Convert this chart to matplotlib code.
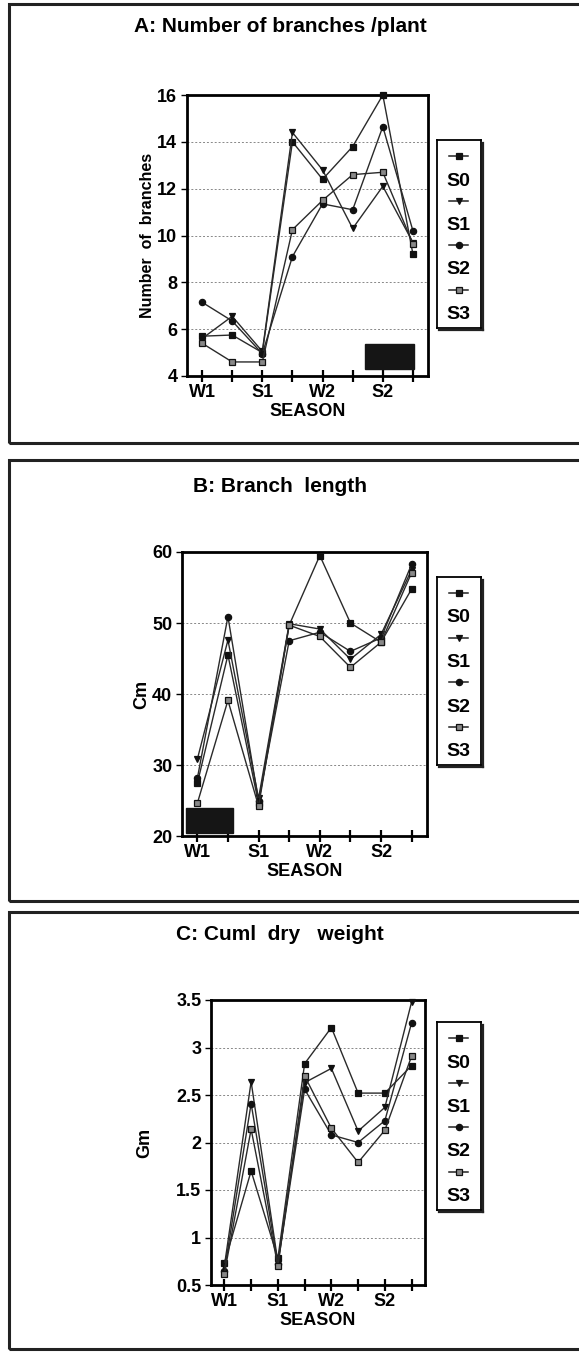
import numpy as np
import matplotlib
matplotlib.use('Agg')
import matplotlib.pyplot as plt
from matplotlib.patches import Rectangle
from matplotlib.lines import Line2D

plt.rcParams['font.family'] = ['Liberation Sans', 'DejaVu Sans']
plt.rcParams['font.weight'] = 'bold'

seasons = ['W1', '', 'S1', '', 'W2', '', 'S2', '']
series_names = ['S0', 'S1', 'S2', 'S3']

# A: number of branches / plant
branches_s0 = [5.7, 5.75, 5.0, 14.0, 12.4, 13.8, 16.0, 9.2]
branches_s1 = [5.6, 6.55, 5.05, 14.4, 12.8, 10.3, 12.1, 9.7]
branches_s2 = [7.15, 6.35, 4.95, 9.1, 11.35, 11.1, 14.65, 10.2]
branches_s3 = [5.4, 4.6, 4.6, 10.25, 11.5, 12.6, 12.7, 9.65]

# B: branch length (cm)
length_s0 = [27.4, 45.5, 24.6, 49.7, 59.5, 50.0, 47.3, 54.8]
length_s1 = [30.8, 47.6, 25.3, 49.9, 49.15, 44.9, 48.4, 57.5]
length_s2 = [28.1, 50.9, 24.9, 47.5, 48.7, 46.0, 47.9, 58.3]
length_s3 = [24.6, 39.1, 24.2, 49.7, 48.1, 43.75, 47.3, 57.1]

# C: cumulative dry weight (gm)
weight_s0 = [0.73, 1.70, 0.78, 2.83, 3.21, 2.52, 2.52, 2.81]
weight_s1 = [0.70, 2.64, 0.74, 2.63, 2.78, 2.12, 2.37, 3.48]
weight_s2 = [0.65, 2.41, 0.72, 2.56, 2.08, 2.00, 2.23, 3.26]
weight_s3 = [0.62, 2.14, 0.70, 2.70, 2.15, 1.79, 2.13, 2.91]

markers = ['s', 'v', 'o', 's']
faces = ['#111', '#111', '#111', '#888']

W, H = 579, 1352
fig = plt.figure(figsize=(W / 100, H / 100), dpi=100)


def fx(px):
    return px / W


def fy(py):
    return 1 - py / H


def frame(top, bottom):
    fig.patches.append(Rectangle((fx(9), fy(bottom)), fx(620), (bottom - top) / H,
                                 transform=fig.transFigure, fill=False, lw=2.2, ec='#222'))


def legend_box(top):
    lax = fig.add_axes([fx(437), fy(top + 188), 44 / W, 188 / H])
    lax.set_xlim(0, 44)
    lax.set_ylim(188, 0)
    lax.set_xticks([])
    lax.set_yticks([])
    for s in lax.spines.values():
        s.set_linewidth(1.3)
    # shadow on right / bottom
    fig.lines.append(Line2D([fx(482.5), fx(482.5)], [fy(top + 3), fy(top + 190)],
                            transform=fig.transFigure, color='#222', lw=1.6))
    fig.lines.append(Line2D([fx(439), fx(482.5)], [fy(top + 190), fy(top + 190)],
                            transform=fig.transFigure, color='#222', lw=1.6))
    for i, name in enumerate(series_names):
        y0 = 16 + i * 44.5
        lax.plot([12, 31], [y0, y0], color='#222', lw=1.1)
        lax.plot([21.5], [y0], marker=markers[i], ms=4.5, mfc=faces[i], mec='#111', mew=0.9)
        lax.text(21.5, y0 + 25, name, ha='center', va='center', fontsize=14, fontweight='bold')


def panel(box, title, title_y, ylabel, ylabel_x, ylabel_size, ylim, ystep, data, blob=None):
    left, right, top, bottom = box
    ax = fig.add_axes([fx(left), fy(bottom), (right - left) / W, (bottom - top) / H])
    x = np.arange(len(seasons))
    for vals, m, fc, name in zip(data, markers, faces, series_names):
        ax.plot(x, vals, color='#2a2a2a', lw=1.0, marker=m, ms=4.5, mfc=fc, mec='#111',
                mew=0.9, label=name, clip_on=False, zorder=3)
    ax.set_xlim(-0.5, 7.5)
    ax.set_ylim(*ylim)
    ax.set_xticks(x)
    ax.set_xticklabels(seasons, fontsize=13, fontweight='bold')
    ax.set_yticks(np.arange(ylim[0], ylim[1] + ystep / 2, ystep))
    ax.yaxis.set_major_formatter('{x:g}')
    for lab in ax.get_yticklabels():
        lab.set_fontweight('bold')
    ax.tick_params(axis='x', direction='inout', length=9, width=1.6, pad=1)
    ax.tick_params(axis='y', direction='out', length=4, width=1, labelsize=13, pad=3)
    for s in ax.spines.values():
        s.set_linewidth(2)
    ax.grid(axis='y', ls=(0, (2, 2)), color='#888', lw=0.7)
    ax.set_xlabel('SEASON', fontsize=13, fontweight='bold', labelpad=2)
    ax.set_ylabel(ylabel, fontsize=ylabel_size, fontweight='bold')
    ax.yaxis.set_label_coords((ylabel_x - left) / (right - left), 0.5)
    if blob is not None:
        ax.add_patch(Rectangle((blob[0], blob[1]), blob[2], blob[3], transform=ax.transAxes,
                               color='#151515', zorder=4))
    fig.text(fx(280), fy(title_y), title, ha='center', va='center', fontsize=15,
             fontweight='bold')
    return ax


frame(4, 443)
panel((187, 428, 95, 376), 'A: Number of branches /plant', 27, 'Number  of  branches', 155, 11.5,
      (4, 16), 2, [branches_s0, branches_s1, branches_s2, branches_s3],
      blob=(0.74, 0.025, 0.2, 0.09))
legend_box(140)

frame(460, 901)
panel((182, 427, 552, 836), 'B: Branch  length', 487, 'Cm', 150, 13,
      (20, 60), 10, [length_s0, length_s1, length_s2, length_s3],
      blob=(0.015, 0.01, 0.195, 0.09))
legend_box(577)

frame(912, 1349)
panel((211, 425, 1000, 1285), 'C: Cuml  dry   weight', 934, 'Gm', 153, 13,
      (0.5, 3.5), 0.5, [weight_s0, weight_s1, weight_s2, weight_s3])
legend_box(1022)

fig.savefig('out.png', dpi=100)
